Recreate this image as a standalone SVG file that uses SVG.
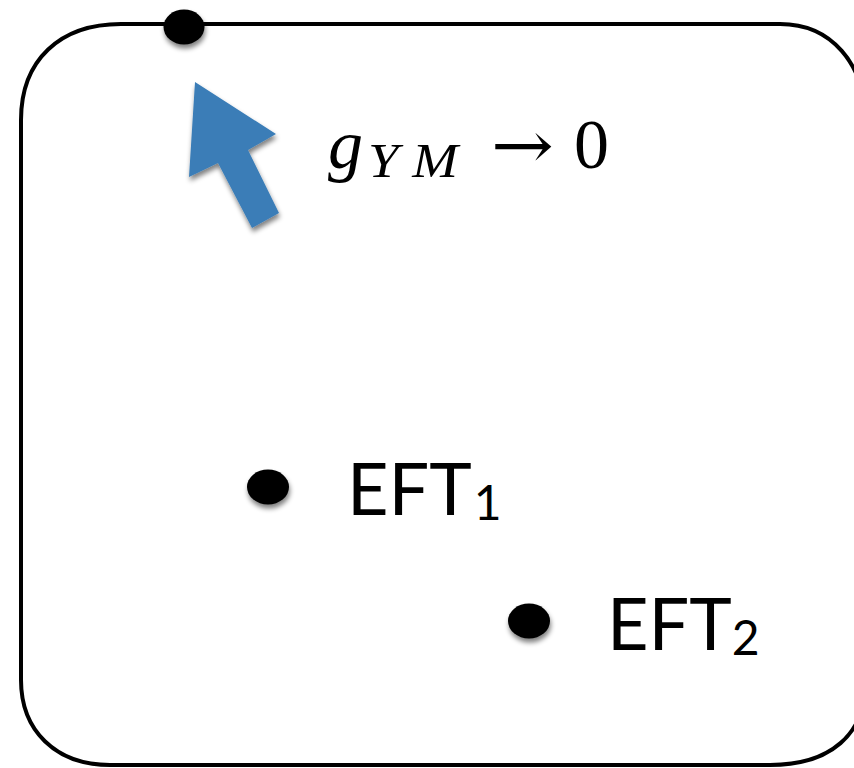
<svg xmlns="http://www.w3.org/2000/svg" width="854" height="768" viewBox="0 0 854 768">
<defs>
<filter id="sh" x="-50%" y="-50%" width="200%" height="200%">
<feGaussianBlur in="SourceAlpha" stdDeviation="2.5"/>
<feOffset dx="1" dy="4" result="b"/>
<feComponentTransfer><feFuncA type="linear" slope="0.5"/></feComponentTransfer>
<feMerge><feMergeNode/><feMergeNode in="SourceGraphic"/></feMerge>
</filter>
</defs>
<style>
.frame{fill:none;stroke:#000;stroke-width:4}
.dot{fill:#000;filter:url(#sh)}
.math{font-family:"Liberation Serif",serif;fill:#000}
.eft{font-family:"Lato","Liberation Sans",sans-serif;fill:#000}
</style>
<rect width="854" height="768" fill="#fff"/>
<g id="space">
<path class="frame" d="M121,24 L780,24 C830,24 866,62 866,125 L866,680 C866,735 830,765 770,765 L110,765 C55,765 21,730 21,680 L21,120 C21,60 60,24 121,24 Z"/>
</g>
<g id="limit-point">
<ellipse class="dot" cx="184" cy="27" rx="20.5" ry="17.5"/>
</g>
<g id="flow-arrow">
<polygon points="195,82 276,134 248,150 279,213 252,228 218,163 189,177" fill="#3a7db7" filter="url(#sh)"/>
</g>
<g id="label-gym">
<text class="math" x="328" y="168" font-size="70" font-style="italic"><tspan>g</tspan><tspan x="368" y="177" font-size="48" textLength="90" lengthAdjust="spacingAndGlyphs">Y M</tspan><tspan x="491" y="168" font-family="DejaVu Serif" font-style="normal" font-size="66" textLength="63" lengthAdjust="spacingAndGlyphs">→</tspan><tspan x="574" font-style="normal">0</tspan></text>
</g>
<g id="eft1">
<ellipse class="dot" cx="268" cy="487" rx="21" ry="17.5"/>
<text class="eft" x="347" y="515" font-size="72">EFT<tspan dx="2" dy="5" font-size="48">1</tspan></text>
</g>
<g id="eft2">
<ellipse class="dot" cx="529" cy="621" rx="21" ry="17.5"/>
<text class="eft" x="607" y="650" font-size="72">EFT<tspan dx="0" dy="5" font-size="48">2</tspan></text>
</g>
<g id="connectors"/>
</svg>
